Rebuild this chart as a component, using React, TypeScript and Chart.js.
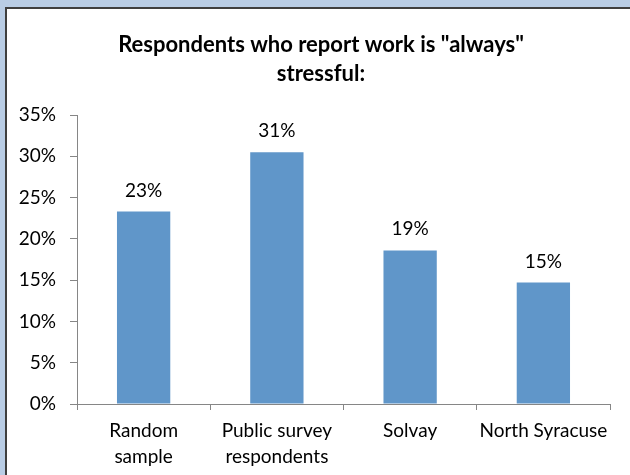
import React, { useEffect, useRef } from "react";
import { Chart, registerables } from "chart.js";

Chart.register(...registerables);

const categories: (string | string[])[] = [
  ["Random", "sample"],
  ["Public survey", "respondents"],
  "Solvay",
  "North Syracuse",
];
const values = [23.3, 30.5, 18.6, 14.7];
const valueLabels = ["23%", "31%", "19%", "15%"];
const yTicks = [0, 5, 10, 15, 20, 25, 30, 35];
const titleLines = ['Respondents who report work is "always"', "stressful:"];

const FONT = "Lato, 'Open Sans', sans-serif";

export default function App() {
  const ref = useRef<HTMLCanvasElement | null>(null);

  useEffect(() => {
    document.body.style.margin = "0";
    const canvas = ref.current;
    if (!canvas) return;

    const titlePlugin = {
      id: "customTitle",
      afterDraw(chart: any) {
        const ctx = chart.ctx;
        ctx.save();
        ctx.fillStyle = "#000";
        ctx.font = `bold 22px ${FONT}`;
        ctx.textAlign = "center";
        ctx.textBaseline = "alphabetic";
        ctx.fillText(titleLines[0], 321, 52);
        ctx.fillText(titleLines[1], 321, 81);
        ctx.restore();
      },
    };

    const valueLabelPlugin = {
      id: "valueLabels",
      afterDatasetsDraw(chart: any) {
        const ctx = chart.ctx;
        const meta = chart.getDatasetMeta(0);
        ctx.save();
        ctx.fillStyle = "#000";
        ctx.font = `19px ${FONT}`;
        ctx.textAlign = "center";
        ctx.textBaseline = "alphabetic";
        meta.data.forEach((bar: any, i: number) => {
          ctx.fillText(valueLabels[i], bar.x, bar.y - 15);
        });
        ctx.restore();
      },
    };

    const chart = new Chart(canvas, {
      type: "bar",
      data: {
        labels: categories,
        datasets: [
          {
            data: values,
            backgroundColor: "#6096C9",
            barPercentage: 0.4,
            categoryPercentage: 1,
          },
        ],
      },
      options: {
        responsive: false,
        animation: false,
        devicePixelRatio: 1,
        layout: { padding: { top: 115, right: 20, bottom: 0, left: 0 } },
        plugins: {
          legend: { display: false },
          title: { display: false },
          tooltip: { enabled: false },
        },
        scales: {
          x: {
            grid: {
              drawOnChartArea: false,
              drawTicks: true,
              tickLength: 6,
              color: "#868686",
              offset: true,
            },
            border: { color: "#868686", width: 1 },
            ticks: {
              color: "#000",
              font: { family: FONT, size: 19, lineHeight: 1.35 },
              padding: 8,
              maxRotation: 0,
              autoSkip: false,
            },
            afterFit: (s: any) => {
              s.height = 71;
            },
          },
          y: {
            min: 0,
            max: 35,
            afterBuildTicks: (s: any) => {
              s.ticks = yTicks.map((v) => ({ value: v }));
            },
            ticks: {
              color: "#000",
              font: { family: FONT, size: 19 },
              padding: 14,
              callback: (v: any) => `${v}%`,
            },
            grid: {
              drawOnChartArea: false,
              drawTicks: true,
              tickLength: 7,
              color: "#868686",
            },
            border: { color: "#868686", width: 1 },
            afterFit: (s: any) => {
              s.width = 77;
            },
          },
        },
      },
      plugins: [titlePlugin, valueLabelPlugin],
    });

    return () => chart.destroy();
  }, []);

  return (
    <div
      style={{
        position: "relative",
        width: 630,
        height: 475,
        background: "#B9CDE5",
        overflow: "hidden",
      }}
    >
      <div
        style={{
          position: "absolute",
          left: 5,
          top: 7,
          right: 0,
          bottom: 0,
          background: "#fff",
          borderTop: "2px solid #3F3F3F",
          borderLeft: "2px solid #3F3F3F",
          boxSizing: "border-box",
        }}
      />
      <canvas
        ref={ref}
        width={630}
        height={475}
        style={{ position: "absolute", left: 0, top: 0, width: 630, height: 475 }}
      />
    </div>
  );
}
